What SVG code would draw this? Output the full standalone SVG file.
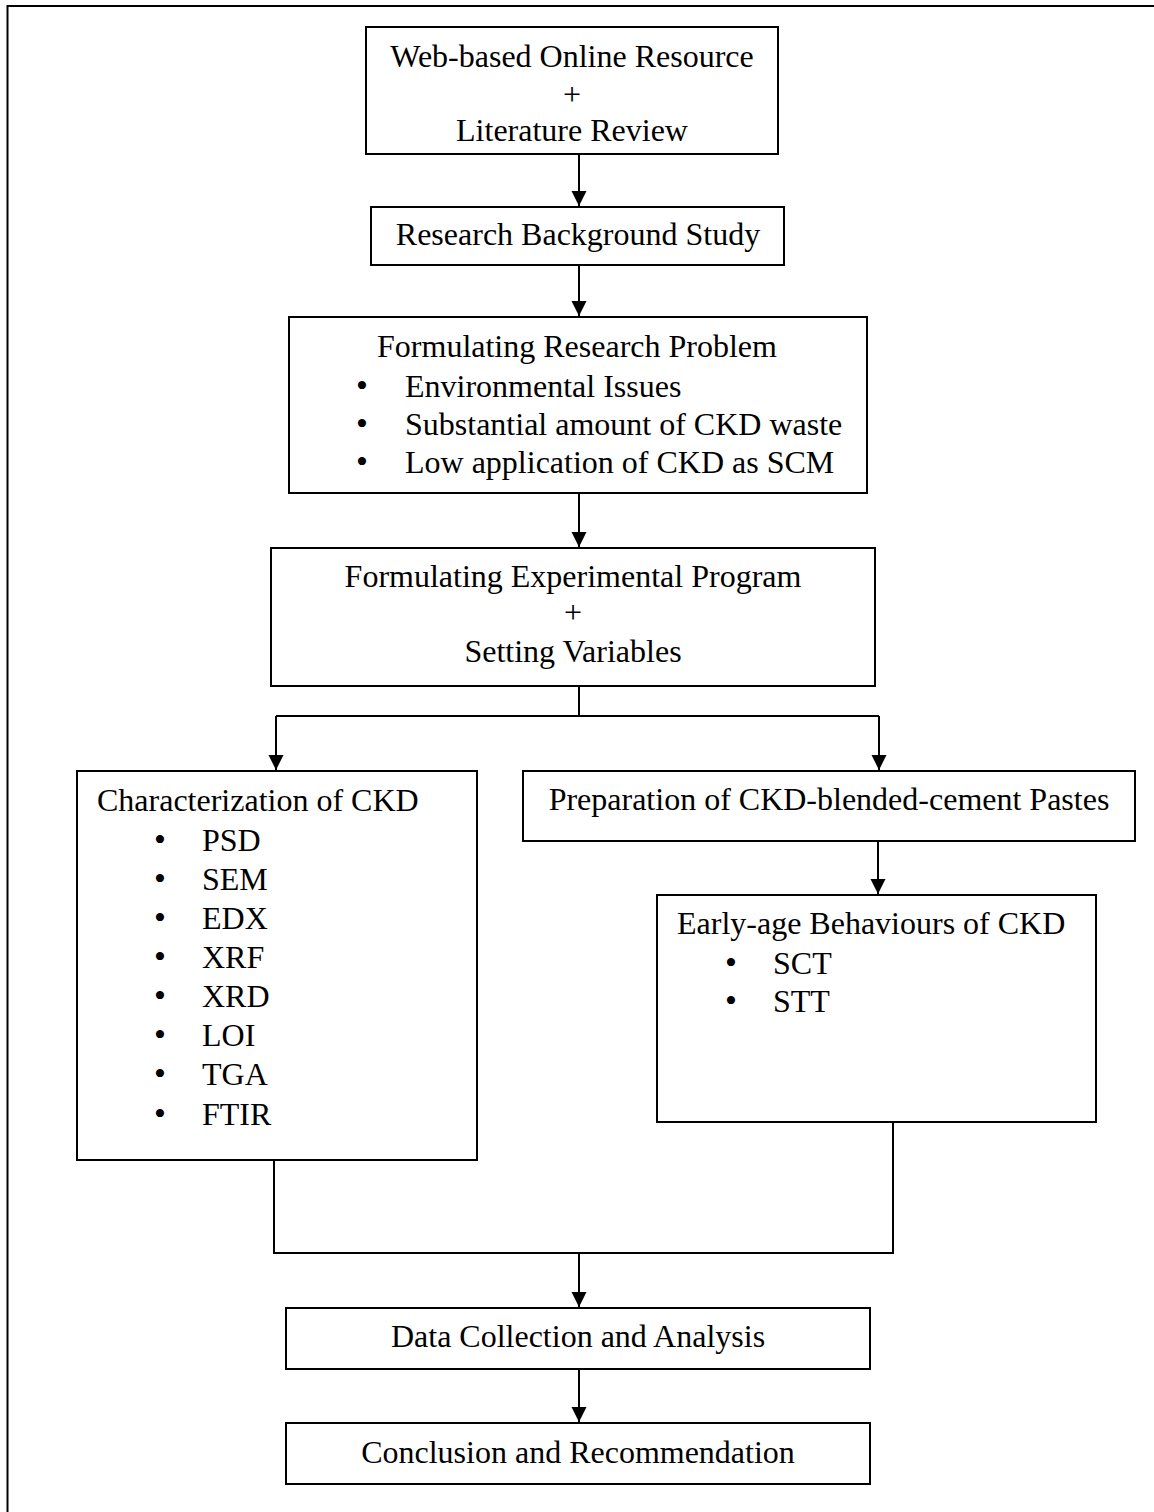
<svg xmlns="http://www.w3.org/2000/svg" width="1154" height="1512" viewBox="0 0 1154 1512">
<style>
  .box { fill: #fff; stroke: #000; stroke-width: 2; }
  .t { font-family: "Liberation Serif", "Times New Roman", serif; font-size: 32px; fill: #000; }
  .c { text-anchor: middle; }
  .b { font-family: "Liberation Serif", "Times New Roman", serif; font-size: 34px; fill: #000; text-anchor: middle; }
  .ln { fill: none; stroke: #000; stroke-width: 2; }
</style>
<defs>
  <marker id="arr" markerUnits="userSpaceOnUse" markerWidth="16" markerHeight="16" viewBox="0 0 16 16" refX="15" refY="8" orient="auto">
    <path d="M0,0.5 L15,8 L0,15.5 Z" fill="#000"/>
  </marker>
</defs>
<rect width="1154" height="1512" fill="#fff"/>
<path class="ln" d="M7.5,1512 V6 H1154"/>

<g id="connectors">
  <path class="ln" d="M579,154 V206" marker-end="url(#arr)"/>
  <path class="ln" d="M579,265 V316" marker-end="url(#arr)"/>
  <path class="ln" d="M579,493 V547" marker-end="url(#arr)"/>
  <path class="ln" d="M579,686 V716"/>
  <path class="ln" d="M276,716 H879"/>
  <path class="ln" d="M276,716 V770" marker-end="url(#arr)"/>
  <path class="ln" d="M879,716 V770" marker-end="url(#arr)"/>
  <path class="ln" d="M878,841 V894" marker-end="url(#arr)"/>
  <path class="ln" d="M274,1160 V1253 H893 V1122"/>
  <path class="ln" d="M579,1253 V1307" marker-end="url(#arr)"/>
  <path class="ln" d="M579,1369 V1422" marker-end="url(#arr)"/>
</g>

<g id="web-resource">
  <rect class="box" x="366" y="27" width="412" height="127"/>
  <text class="t c" x="572" y="67">Web-based Online Resource</text>
  <text class="t c" x="572" y="105">+</text>
  <text class="t c" x="572" y="141">Literature Review</text>
</g>

<g id="background-study">
  <rect class="box" x="371" y="207" width="413" height="58"/>
  <text class="t c" x="578" y="245">Research Background Study</text>
</g>

<g id="research-problem">
  <rect class="box" x="289" y="317" width="578" height="176"/>
  <text class="t c" x="577" y="357">Formulating Research Problem</text>
  <text class="b" x="362" y="397">•</text>
  <text class="t" x="405" y="397">Environmental Issues</text>
  <text class="b" x="362" y="435">•</text>
  <text class="t" x="405" y="435">Substantial amount of CKD waste</text>
  <text class="b" x="362" y="473">•</text>
  <text class="t" x="405" y="473">Low application of CKD as SCM</text>
</g>

<g id="experimental-program">
  <rect class="box" x="271" y="548" width="604" height="138"/>
  <text class="t c" x="573" y="587">Formulating Experimental Program</text>
  <text class="t c" x="573" y="623">+</text>
  <text class="t c" x="573" y="662">Setting Variables</text>
</g>

<g id="characterization">
  <rect class="box" x="77" y="771" width="400" height="389"/>
  <text class="t" x="97" y="811">Characterization of CKD</text>
  <text class="b" x="160" y="851">•</text>
  <text class="t" x="202" y="851">PSD</text>
  <text class="b" x="160" y="890">•</text>
  <text class="t" x="202" y="890">SEM</text>
  <text class="b" x="160" y="929">•</text>
  <text class="t" x="202" y="929">EDX</text>
  <text class="b" x="160" y="968">•</text>
  <text class="t" x="202" y="968">XRF</text>
  <text class="b" x="160" y="1007">•</text>
  <text class="t" x="202" y="1007">XRD</text>
  <text class="b" x="160" y="1046">•</text>
  <text class="t" x="202" y="1046">LOI</text>
  <text class="b" x="160" y="1085">•</text>
  <text class="t" x="202" y="1085">TGA</text>
  <text class="b" x="160" y="1125">•</text>
  <text class="t" x="202" y="1125">FTIR</text>
</g>

<g id="preparation">
  <rect class="box" x="523" y="771" width="612" height="70"/>
  <text class="t c" x="829" y="810">Preparation of CKD-blended-cement Pastes</text>
</g>

<g id="early-age">
  <rect class="box" x="657" y="895" width="439" height="227"/>
  <text class="t" x="677" y="934">Early-age Behaviours of CKD</text>
  <text class="b" x="731" y="974">•</text>
  <text class="t" x="773" y="974">SCT</text>
  <text class="b" x="731" y="1012">•</text>
  <text class="t" x="773" y="1012">STT</text>
</g>

<g id="data-collection">
  <rect class="box" x="286" y="1308" width="584" height="61"/>
  <text class="t c" x="578" y="1347">Data Collection and Analysis</text>
</g>

<g id="conclusion">
  <rect class="box" x="286" y="1423" width="584" height="61"/>
  <text class="t c" x="578" y="1463">Conclusion and Recommendation</text>
</g>
</svg>
